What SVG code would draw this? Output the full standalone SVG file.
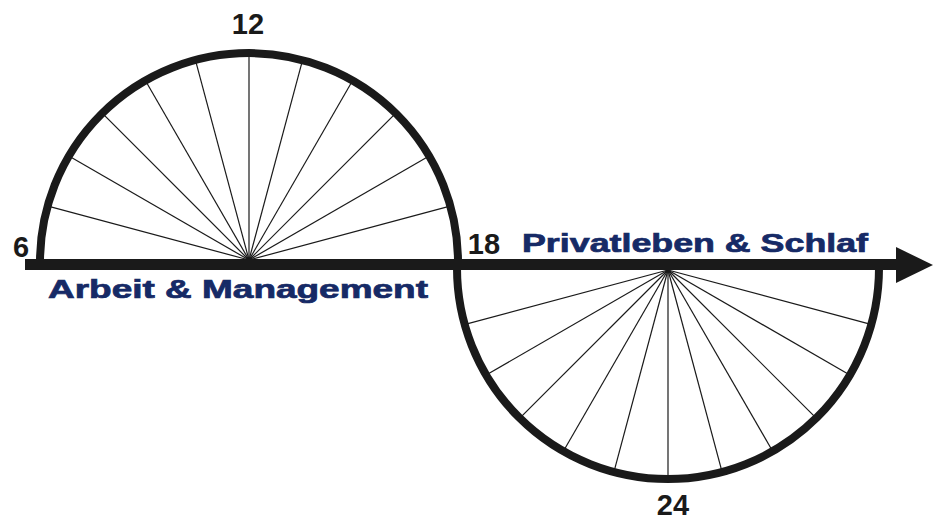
<svg xmlns="http://www.w3.org/2000/svg" width="934" height="522" viewBox="0 0 934 522">
<style>
.arc{fill:none;stroke:#1a1a1a;stroke-width:8}
.spoke{stroke:#1a1a1a;stroke-width:1.2}
.num{font-family:"Liberation Sans",Arial,sans-serif;font-weight:bold;font-size:29px;fill:#1a1a1a;text-anchor:middle}
.lbl{font-family:"Liberation Sans",Arial,sans-serif;font-weight:bold;font-size:25px;fill:#162a66;stroke:#162a66;stroke-width:0.7}
</style>
<rect width="934" height="522" fill="#ffffff"/>
<g id="upper">
<g class="spoke">
<line x1="249" y1="260" x2="47.1" y2="205.9"/>
<line x1="249" y1="260" x2="68.0" y2="155.5"/>
<line x1="249" y1="260" x2="101.2" y2="112.2"/>
<line x1="249" y1="260" x2="144.5" y2="79.0"/>
<line x1="249" y1="260" x2="194.9" y2="58.1"/>
<line x1="249" y1="260" x2="249" y2="51"/>
<line x1="249" y1="260" x2="303.1" y2="58.1"/>
<line x1="249" y1="260" x2="353.5" y2="79.0"/>
<line x1="249" y1="260" x2="396.8" y2="112.2"/>
<line x1="249" y1="260" x2="430.0" y2="155.5"/>
<line x1="249" y1="260" x2="450.9" y2="205.9"/>
</g>
<path class="arc" d="M40 262 A209 209 0 0 1 458 262"/>
</g>
<g id="lower">
<g class="spoke">
<line x1="668" y1="270" x2="464.2" y2="324.6"/>
<line x1="668" y1="270" x2="485.3" y2="375.5"/>
<line x1="668" y1="270" x2="518.8" y2="419.2"/>
<line x1="668" y1="270" x2="562.5" y2="452.7"/>
<line x1="668" y1="270" x2="613.4" y2="473.8"/>
<line x1="668" y1="270" x2="668" y2="481"/>
<line x1="668" y1="270" x2="722.6" y2="473.8"/>
<line x1="668" y1="270" x2="773.5" y2="452.7"/>
<line x1="668" y1="270" x2="817.2" y2="419.2"/>
<line x1="668" y1="270" x2="850.7" y2="375.5"/>
<line x1="668" y1="270" x2="871.8" y2="324.6"/>
</g>
<path class="arc" d="M457 268 A211 211 0 0 0 879 268"/>
</g>
<g id="connectors">
<rect x="25" y="259" width="873" height="11" fill="#1a1a1a"/>
<polygon points="896,247 933,265 896,283" fill="#1a1a1a"/>
</g>
<g id="labels">
<text class="num" x="248" y="34">12</text>
<text class="num" x="21" y="257" font-size="27">6</text>
<text class="num" x="484" y="254">18</text>
<text class="num" x="673" y="515" font-size="28">24</text>
<text class="lbl" x="48" y="298" textLength="380" lengthAdjust="spacingAndGlyphs">Arbeit &amp; Management</text>
<text class="lbl" x="522" y="252" textLength="346" lengthAdjust="spacingAndGlyphs">Privatleben &amp; Schlaf</text>
</g>
</svg>
